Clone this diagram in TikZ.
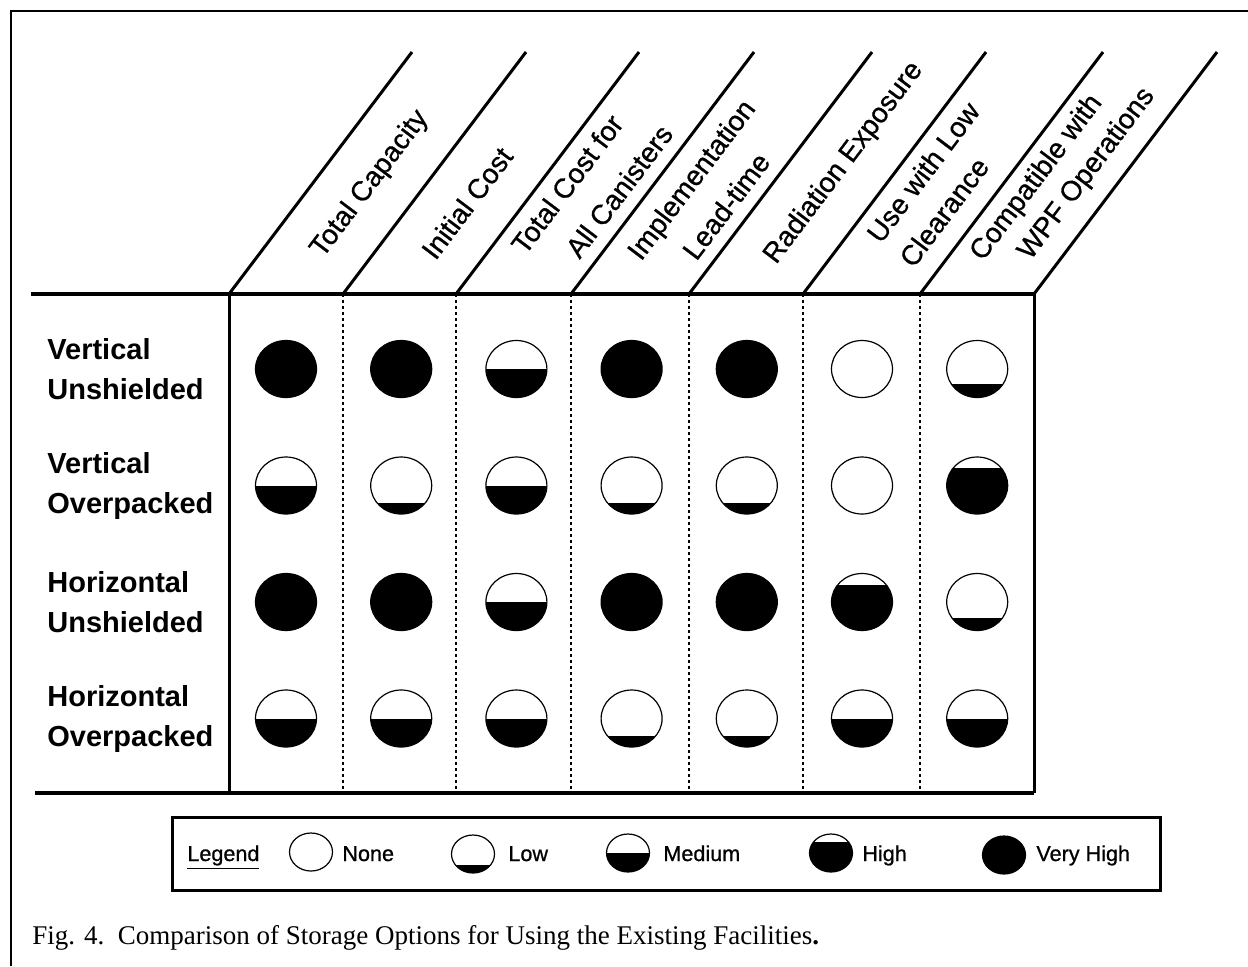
\documentclass[tikz,border=0pt]{standalone}
\usepackage{fontspec}
\setmainfont{Liberation Serif}
\setsansfont{Liberation Sans}
\newfontfamily\headfont{Liberation Sans}[FakeBold=0.8]
\usetikzlibrary{calc,shapes.geometric}

\tikzset{
  heavyline/.style={line width=2pt},
  diagline/.style={line width=1.5pt},
  gridline/.style={line width=1.2pt, dash pattern=on 1.5pt off 1.5pt},
  header/.style={font=\headfont\fontsize{14}{16}\selectfont, rotate=53, inner sep=0pt},
  rowlabel/.style={font=\sffamily\bfseries\fontsize{14.5}{20}\selectfont, align=left, anchor=west, inner sep=0pt},
  keytext/.style={font=\headfont\fontsize{10.8}{13}\selectfont, anchor=base west, inner sep=0pt},
  rating/.style={ellipse, draw, line width=0.6pt, inner sep=0pt, minimum width=30.5pt, minimum height=28.5pt,
    path picture={\fill (path picture bounding box.south west) rectangle
      ($(path picture bounding box.south east)!#1!(path picture bounding box.north east)$);}},
  keyrating/.style={rating=#1, minimum width=21.5pt, minimum height=19pt}
}

\begin{document}
\begin{tikzpicture}[x=0.5pt, y=-0.5pt]
\useasboundingbox (0,0) rectangle (1248,966);

% frame of the figure
\draw[line width=1pt] (11,966) -- (11,11) -- (1248,11);

% table
\draw[heavyline] (31,294) -- (1034,294);
\draw[heavyline] (35,793) -- (1034,793);
\draw[diagline] (229,294) -- (229,793);
\draw[diagline] (1034,294) -- (1034,793);
\foreach \x in {343,456,571,689,803,920}
  \draw[gridline] (\x,294) -- (\x,793);
\foreach \x in {229,343,456,571,689,803,920,1034}
  \draw[diagline] (\x,294) -- ++(183,-242);

% column heads
\node[header] (h1) at (370,184) {Total Capacity};
\node[header] (h2) at (467,203) {Initial Cost};
\node[header] (h3a) at (567,184) {Total Cost for};
\node[header] (h3b) at (619,191) {All Canisters};
\node[header] (h4a) at (693,181) {Implementation};
\node[header] (h4b) at (726,206) {Lead-time};
\node[header] (h5) at (844,163) {Radiation Exposure};
\node[header] (h6a) at (923,172) {Use with Low};
\node[header] (h6b) at (944,212) {Clearance};
\node[header] (h7a) at (1037,178) {Compatible with};
\node[header] (h7b) at (1087,174) {WPF Operations};

% row heads
\node[rowlabel] (vu) at (47,369) {Vertical\\Unshielded};
\node[rowlabel] (vo) at (47,486) {Vertical\\Overpacked};
\node[rowlabel] (hu) at (47,602) {Horizontal\\Unshielded};
\node[rowlabel] (ho) at (47,719) {Horizontal\\Overpacked};

% ratings: row/column/filled part
\foreach \r/\c/\f in {1/1/1, 1/2/1, 1/3/.5, 1/4/1, 1/5/1, 1/6/0, 1/7/.23,
                      2/1/.5, 2/2/.2, 2/3/.5, 2/4/.2, 2/5/.2, 2/6/0, 2/7/.8,
                      3/1/1, 3/2/1, 3/3/.5, 3/4/1, 3/5/1, 3/6/.8, 3/7/.22,
                      4/1/.5, 4/2/.5, 4/3/.5, 4/4/.2, 4/5/.2, 4/6/.5, 4/7/.5}
  \node[rating=\f] (rate-\r-\c) at ({286+115.2*(\c-1)},{369+116.5*(\r-1)}) {};

% legend
\draw[line width=1.5pt] (172,817) rectangle (1160,890);
\node[keytext] (key) at (187,861) {\underline{Legend}};
\node[keyrating=0] (k0) at (311,852) {};
\node[keytext] (t0) at (342,861) {None};
\node[keyrating=.2] (k1) at (473,854) {};
\node[keytext] (t1) at (508,861) {Low};
\node[keyrating=.5] (k2) at (628,853) {};
\node[keytext] (t2) at (663,861) {Medium};
\node[keyrating=.8] (k3) at (831,853) {};
\node[keytext] (t3) at (862,861) {High};
\node[keyrating=1] (k4) at (1004,855) {};
\node[keytext] (t4) at (1036,861) {Very High};

% caption
\node[anchor=base west, inner sep=0pt, font=\fontsize{13.5}{16}\selectfont] (cap) at (32,944)
  {Fig. 4.\ \ Comparison of Storage Options for Using the Existing Facilities\textbf{.}};
\end{tikzpicture}
\end{document}
